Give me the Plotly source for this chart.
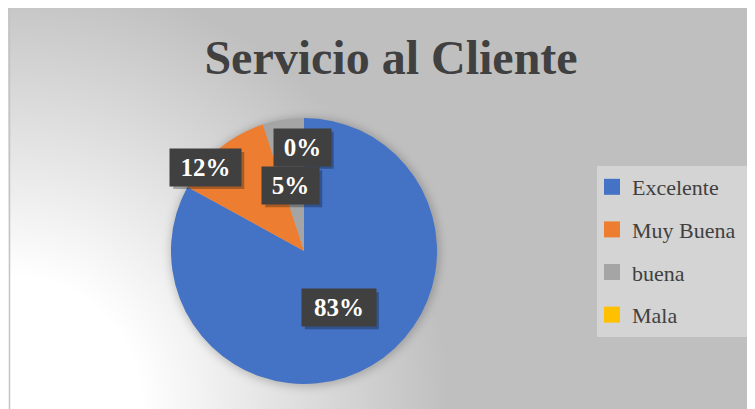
import math
import urllib.parse
import plotly.graph_objects as go

# ---------------- data ----------------
categories = ["Excelente", "Muy Buena", "buena", "Mala"]
values = [83, 12, 5, 0]
colors = ["#4472C4", "#ED7D31", "#A5A5A5", "#FFC000"]
title_text = "Servicio al Cliente"

# ---------------- layout constants (figure px, top-left origin) ----------------
W, H = 755, 409
CX, CY, R = 296, 243, 133          # pie centre / radius
LEG_BOX = (589, 158, 745, 329)     # legend box (x0, y0, x1, y1)
SERIF = "Liberation Serif, Times New Roman, serif"

dom_x = [(CX - R) / W, (CX + R) / W]
dom_y = [1 - (CY + R) / H, 1 - (CY - R) / H]

# background: grey chart area with white glow bottom-left and a soft pie shadow
svg = f"""<svg xmlns='http://www.w3.org/2000/svg' width='{W}' height='{H}' viewBox='0 0 {W} {H}'>
<defs>
<radialGradient id='g' gradientUnits='userSpaceOnUse' cx='1' cy='{H - 8}' r='440'>
<stop offset='0' stop-color='#FFFFFF'/><stop offset='0.3' stop-color='#FFFFFF'/><stop offset='1' stop-color='#BFBFBF'/>
</radialGradient>
<filter id='b' x='-20%' y='-20%' width='140%' height='140%'><feGaussianBlur stdDeviation='4'/></filter>
</defs>
<rect x='0' y='0' width='{W}' height='{H}' fill='url(#g)'/>
<line x1='1.5' y1='0' x2='1.5' y2='{H}' stroke='#C4C4C4' stroke-width='1.5'/>
<circle cx='{CX + 1}' cy='{CY + 1}' r='{R + 2}' fill='#000000' fill-opacity='0.2' filter='url(#b)'/>
</svg>"""
bg_uri = "data:image/svg+xml;charset=utf-8," + urllib.parse.quote(svg)

fig = go.Figure()
fig.add_trace(go.Pie(
    labels=categories, values=values, sort=False, direction="clockwise",
    rotation=0, marker=dict(colors=colors, line=dict(width=0)),
    textinfo="none", hoverinfo="label+percent", showlegend=False,
    domain=dict(x=dom_x, y=dom_y),
))

# legend entries (one group each so the rows can be spaced out)
for cat, col in zip(categories, colors):
    fig.add_trace(go.Scatter(
        x=[None], y=[None], mode="markers", name=cat, legendgroup=cat,
        marker=dict(symbol="square", size=16, color=col),
    ))

# data labels: dark boxes at a fraction of the radius along each slice's mid-angle
total = sum(values)
label_r = [0.5, 0.97, 0.5, 0.78]
label_dtheta = [-1, -10, -2.5, -1]
label_w = [68, 65, 51, 51]
LBL_H, LBL_PAD = 31, 3
annotations = []
shapes = [dict(type="rect", xref="paper", yref="paper",
               x0=LEG_BOX[0] / W, x1=LEG_BOX[2] / W,
               y0=1 - LEG_BOX[3] / H, y1=1 - LEG_BOX[1] / H,
               fillcolor="#D4D4D4", line=dict(width=0), layer="below")]
cum = 0
for i, v in enumerate(values):
    mid = (cum + v / 2) / total * 360 + label_dtheta[i]
    cum += v
    th = math.radians(mid)
    px = CX + R * label_r[i] * math.sin(th)
    py = CY - R * label_r[i] * math.cos(th)
    bw = label_w[i] + 2 * LBL_PAD
    bh = LBL_H + 2 * LBL_PAD
    # drop shadow behind the label box
    shapes.append(dict(type="rect", xref="paper", yref="paper", layer="above",
                       x0=(px - bw / 2 + 3) / W, x1=(px + bw / 2 + 3) / W,
                       y0=1 - (py + bh / 2 + 3) / H, y1=1 - (py - bh / 2 + 3) / H,
                       fillcolor="rgba(0,0,0,0.28)", line=dict(width=0)))
    annotations.append(dict(
        x=px / W, y=1 - py / H, xref="paper", yref="paper",
        xanchor="center", yanchor="middle", showarrow=False,
        text=f"<b>{round(v / total * 100)}%</b>",
        font=dict(family=SERIF, size=25, color="#FFFFFF"),
        bgcolor="#404040", width=label_w[i], height=LBL_H, borderpad=LBL_PAD,
    ))

fig.update_layout(
    width=W, height=H, margin=dict(l=0, r=0, t=0, b=0),
    paper_bgcolor="#BFBFBF", plot_bgcolor="rgba(0,0,0,0)",
    xaxis=dict(visible=False), yaxis=dict(visible=False),
    title=dict(text=f"<b>{title_text}</b>", x=383 / W, xanchor="center",
               y=1 - 49 / H, yanchor="middle", yref="container",
               font=dict(family=SERIF, size=48, color="#404040")),
    legend=dict(x=584 / W, xanchor="left", y=1 - 158 / H, yanchor="top",
                bgcolor="rgba(0,0,0,0)", tracegroupgap=11,
                font=dict(family=SERIF, size=22, color="#404040")),
    images=[dict(source=bg_uri, xref="paper", yref="paper", x=0, y=1,
                 sizex=1, sizey=1, sizing="stretch", layer="below")],
    shapes=shapes,
    annotations=annotations,
)

fig.write_html("out.html")
